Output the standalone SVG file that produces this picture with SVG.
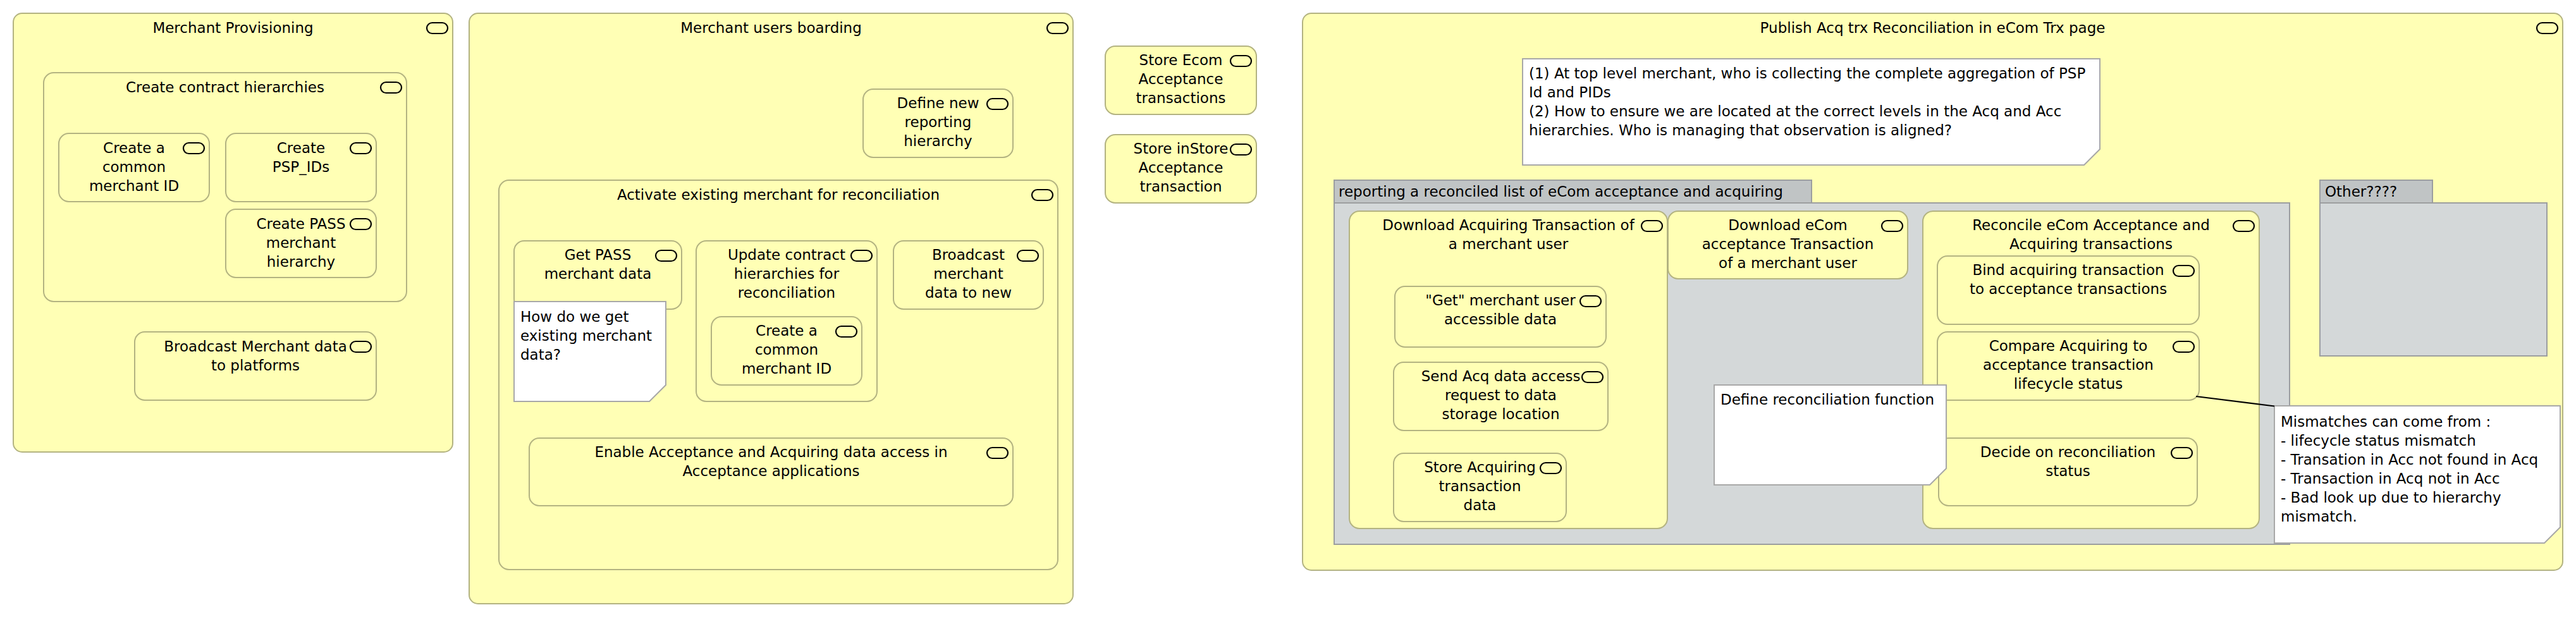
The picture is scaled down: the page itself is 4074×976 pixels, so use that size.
<svg xmlns="http://www.w3.org/2000/svg" xmlns:xlink="http://www.w3.org/1999/xlink" width="4074" height="976" viewBox="0 0 4074 976">
<style>
.box{fill:#ffffb5;stroke:#b3b381;stroke-width:2}
.icon{fill:none;stroke:#000;stroke-width:2.2}
.note{fill:#fff;stroke:#a8a8a8;stroke-width:2}
.grp{fill:#d4d8d9;stroke:#9c9e9f;stroke-width:2}
.tab{fill:#c0c4c5;stroke:#9c9e9f;stroke-width:2}
.conn{fill:none;stroke:#000;stroke-width:2.2}
text{font-family:"DejaVu Sans","Noto Sans",sans-serif;font-size:23px;fill:#000}
.c{text-anchor:middle}
</style>
<defs>
<rect id="ic" width="33" height="17" rx="8.5" class="icon"/>
</defs>
<rect x="0" y="0" width="4074" height="976" fill="#fff"/>

<g id="merchant-provisioning">
<rect class="box" x="21" y="21" width="695" height="694" rx="14"/>
<use xlink:href="#ic" x="675" y="36"/>
<text class="c" x="368.5" y="52">Merchant Provisioning</text>
</g>
<g id="create-contract-hierarchies">
<rect class="box" x="69" y="115" width="574" height="362" rx="16"/>
<use xlink:href="#ic" x="602" y="130"/>
<text class="c" x="356" y="146">Create contract hierarchies</text>
</g>
<g id="create-common-merchant-id-1">
<rect class="box" x="93" y="211" width="238" height="108" rx="16"/>
<use xlink:href="#ic" x="290" y="226"/>
<text class="c" x="212" y="242">Create a</text>
<text class="c" x="212" y="272">common</text>
<text class="c" x="212" y="302">merchant ID</text>
</g>
<g id="create-psp-ids">
<rect class="box" x="357" y="211" width="238" height="108" rx="16"/>
<use xlink:href="#ic" x="554" y="226"/>
<text class="c" x="476" y="242">Create</text>
<text class="c" x="476" y="272">PSP_IDs</text>
</g>
<g id="create-pass-hierarchy">
<rect class="box" x="357" y="331" width="238" height="108" rx="16"/>
<use xlink:href="#ic" x="554" y="346"/>
<text class="c" x="476" y="362">Create PASS</text>
<text class="c" x="476" y="392">merchant</text>
<text class="c" x="476" y="422">hierarchy</text>
</g>
<g id="broadcast-merchant-data">
<rect class="box" x="213" y="525" width="382" height="108" rx="16"/>
<use xlink:href="#ic" x="554" y="540"/>
<text class="c" x="404" y="556">Broadcast Merchant data</text>
<text class="c" x="404" y="586">to platforms</text>
</g>

<g id="merchant-users-boarding">
<rect class="box" x="742" y="21" width="955" height="934" rx="14"/>
<use xlink:href="#ic" x="1656" y="36"/>
<text class="c" x="1219.5" y="52">Merchant users boarding</text>
</g>
<g id="define-new-reporting-hierarchy">
<rect class="box" x="1365" y="141" width="237" height="108" rx="16"/>
<use xlink:href="#ic" x="1561" y="156"/>
<text class="c" x="1483.5" y="171">Define new</text>
<text class="c" x="1483.5" y="201">reporting</text>
<text class="c" x="1483.5" y="231">hierarchy</text>
</g>
<g id="activate-existing-merchant">
<rect class="box" x="789" y="285" width="884" height="616" rx="16"/>
<use xlink:href="#ic" x="1632" y="300"/>
<text class="c" x="1231" y="316">Activate existing merchant for reconciliation</text>
</g>
<g id="get-pass-merchant-data">
<rect class="box" x="813" y="381" width="265" height="108" rx="16"/>
<use xlink:href="#ic" x="1037" y="396"/>
<text class="c" x="945.5" y="411">Get PASS</text>
<text class="c" x="945.5" y="441">merchant data</text>
</g>
<g id="note-existing-merchant-data">
<path class="note" d="M813,477 H1053 V609 L1027,635 H813 Z"/>
<text x="823" y="509">How do we get</text>
<text x="823" y="539">existing merchant</text>
<text x="823" y="569">data?</text>
</g>
<g id="update-contract-hierarchies">
<rect class="box" x="1101" y="381" width="286" height="254" rx="16"/>
<use xlink:href="#ic" x="1346" y="396"/>
<text class="c" x="1244" y="411">Update contract</text>
<text class="c" x="1244" y="441">hierarchies for</text>
<text class="c" x="1244" y="471">reconciliation</text>
</g>
<g id="create-common-merchant-id-2">
<rect class="box" x="1125" y="501" width="238" height="108" rx="16"/>
<use xlink:href="#ic" x="1322" y="516"/>
<text class="c" x="1244" y="531">Create a</text>
<text class="c" x="1244" y="561">common</text>
<text class="c" x="1244" y="591">merchant ID</text>
</g>
<g id="broadcast-merchant-data-new">
<rect class="box" x="1413" y="381" width="237" height="108" rx="16"/>
<use xlink:href="#ic" x="1609" y="396"/>
<text class="c" x="1531.5" y="411">Broadcast</text>
<text class="c" x="1531.5" y="441">merchant</text>
<text class="c" x="1531.5" y="471">data to new</text>
</g>
<g id="enable-data-access">
<rect class="box" x="837" y="693" width="765" height="107" rx="16"/>
<use xlink:href="#ic" x="1561" y="708"/>
<text class="c" x="1219.5" y="723">Enable Acceptance and Acquiring data access in</text>
<text class="c" x="1219.5" y="753">Acceptance applications</text>
</g>

<g id="store-ecom-acceptance">
<rect class="box" x="1748" y="73" width="239" height="108" rx="16"/>
<use xlink:href="#ic" x="1946" y="88"/>
<text class="c" x="1867.5" y="103">Store Ecom</text>
<text class="c" x="1867.5" y="133">Acceptance</text>
<text class="c" x="1867.5" y="163">transactions</text>
</g>
<g id="store-instore-acceptance">
<rect class="box" x="1748" y="213" width="239" height="108" rx="16"/>
<use xlink:href="#ic" x="1946" y="228"/>
<text class="c" x="1867.5" y="243">Store inStore</text>
<text class="c" x="1867.5" y="273">Acceptance</text>
<text class="c" x="1867.5" y="303">transaction</text>
</g>

<g id="publish-acq-trx">
<rect class="box" x="2060" y="21" width="1993" height="881" rx="14"/>
<use xlink:href="#ic" x="4012" y="36"/>
<text class="c" x="3056.5" y="52">Publish Acq trx Reconciliation in eCom Trx page</text>
</g>
<g id="note-top-level">
<path class="note" d="M2408,93 H3321 V236 L3296,261 H2408 Z"/>
<text x="2418" y="124">(1) At top level merchant, who is collecting the complete aggregation of PSP</text>
<text x="2418" y="154">Id and PIDs</text>
<text x="2418" y="184">(2) How to ensure we are located at the correct levels in the Acq and Acc</text>
<text x="2418" y="214">hierarchies. Who is managing that observation is aligned?</text>
</g>
<g id="group-reporting">
<rect class="tab" x="2110" y="285" width="755" height="36"/>
<rect class="grp" x="2110" y="321" width="1511" height="540"/>
<text x="2117" y="311">reporting a reconciled list of eCom acceptance and acquiring</text>
</g>
<g id="download-acquiring">
<rect class="box" x="2134" y="334" width="503" height="502" rx="16"/>
<use xlink:href="#ic" x="2596" y="349"/>
<text class="c" x="2385.5" y="364">Download Acquiring Transaction of</text>
<text class="c" x="2385.5" y="394">a merchant user</text>
</g>
<g id="get-merchant-user-data">
<rect class="box" x="2206" y="453" width="334" height="96" rx="16"/>
<use xlink:href="#ic" x="2499" y="468"/>
<text class="c" x="2373" y="483">"Get" merchant user</text>
<text class="c" x="2373" y="513">accessible data</text>
</g>
<g id="send-acq-data-request">
<rect class="box" x="2204" y="573" width="339" height="108" rx="16"/>
<use xlink:href="#ic" x="2502" y="588"/>
<text class="c" x="2373.5" y="603">Send Acq data access</text>
<text class="c" x="2373.5" y="633">request to data</text>
<text class="c" x="2373.5" y="663">storage location</text>
</g>
<g id="store-acquiring-data">
<rect class="box" x="2204" y="717" width="273" height="108" rx="16"/>
<use xlink:href="#ic" x="2436" y="732"/>
<text class="c" x="2340.5" y="747">Store Acquiring</text>
<text class="c" x="2340.5" y="777">transaction</text>
<text class="c" x="2340.5" y="807">data</text>
</g>
<g id="download-ecom-acceptance">
<rect class="box" x="2638" y="334" width="379" height="107" rx="16"/>
<use xlink:href="#ic" x="2976" y="349"/>
<text class="c" x="2827.5" y="364">Download eCom</text>
<text class="c" x="2827.5" y="394">acceptance Transaction</text>
<text class="c" x="2827.5" y="424">of a merchant user</text>
</g>
<g id="reconcile-transactions">
<rect class="box" x="3041" y="334" width="532" height="502" rx="16"/>
<use xlink:href="#ic" x="3532" y="349"/>
<text class="c" x="3307" y="364">Reconcile eCom Acceptance and</text>
<text class="c" x="3307" y="394">Acquiring transactions</text>
</g>
<g id="bind-transactions">
<rect class="box" x="3064" y="405" width="414" height="108" rx="16"/>
<use xlink:href="#ic" x="3437" y="420"/>
<text class="c" x="3271" y="435">Bind acquiring transaction</text>
<text class="c" x="3271" y="465">to acceptance transactions</text>
</g>
<g id="compare-lifecycle">
<rect class="box" x="3064" y="525" width="414" height="108" rx="16"/>
<use xlink:href="#ic" x="3437" y="540"/>
<text class="c" x="3271" y="555">Compare Acquiring to</text>
<text class="c" x="3271" y="585">acceptance transaction</text>
<text class="c" x="3271" y="615">lifecycle status</text>
</g>
<g id="decide-status">
<rect class="box" x="3066" y="693" width="409" height="107" rx="16"/>
<use xlink:href="#ic" x="3434" y="708"/>
<text class="c" x="3270.5" y="723">Decide on reconciliation</text>
<text class="c" x="3270.5" y="753">status</text>
</g>
<g id="note-define-reconciliation">
<path class="note" d="M2711,609 H3078 V741 L3052,767 H2711 Z"/>
<text x="2721" y="640">Define reconciliation function</text>
</g>
<g id="group-other">
<rect class="tab" x="3669" y="285" width="178" height="36"/>
<rect class="grp" x="3669" y="321" width="359" height="242"/>
<text x="3677" y="311">Other????</text>
</g>
<g id="note-mismatches">
<path class="note" d="M3597,642 H4049 V834 L4024,859 H3597 Z"/>
<text x="3607" y="675">Mismatches can come from :</text>
<text x="3607" y="705">- lifecycle status mismatch</text>
<text x="3607" y="735">- Transation in Acc not found in Acq</text>
<text x="3607" y="765">- Transaction in Acq not in Acc</text>
<text x="3607" y="795">- Bad look up due to hierarchy</text>
<text x="3607" y="825">mismatch.</text>
</g>

<g id="connectors">
<line class="conn" x1="3473" y1="627" x2="3597" y2="642.5"/>
</g>
</svg>
